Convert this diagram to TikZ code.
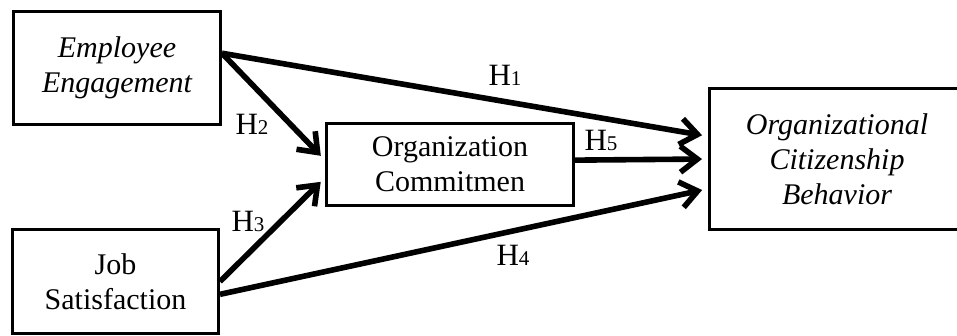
\documentclass[tikz,border=0pt]{standalone}
\usepackage{fontspec}
\setmainfont{Liberation Serif}
\usetikzlibrary{arrows.meta}

\tikzset{
  box/.style={draw=black, line width=1.5pt, align=center, inner sep=0pt,
    font=\fontsize{15}{17.5}\selectfont},
  hyp/.style={draw=black, line width=2.8pt,
    -{Straight Barb[length=8.5pt,width=13pt,line width=2.8pt]}, shorten >=3pt},
  hlab/.style={inner sep=0pt, font=\fontsize{15.5}{18}\selectfont},
}
\newcommand{\hsub}[1]{H{\fontsize{10.5}{12}\selectfont #1}}

\begin{document}
\begin{tikzpicture}[x=0.5pt,y=-0.5pt]
\useasboundingbox (0,0) rectangle (957,336);
\clip (0,0) rectangle (957,336);

\node[box,minimum width=103.5pt,minimum height=56.5pt] (ee) at (117,68) {\itshape Employee\\ \itshape Engagement};
\node[box,minimum width=103pt,minimum height=52pt] (js) at (115.5,281.5) {Job\\ Satisfaction};
\node[box,minimum width=123.5pt,minimum height=41pt] (oc) at (450,164.5) {Organization\\ Commitmen};
\node[box,minimum width=127.5pt,minimum height=70pt] (ocb) at (837,159) {\itshape Organizational\\ \itshape Citizenship\\ \itshape Behavior};

\draw[hyp] (ee.8) -- (ocb.170.5);
\draw[hyp] (ee.8) -- (oc.178);
\draw[hyp] (js.0) -- (oc.186);
\draw[hyp] (js.-7) -- (ocb.193.5);
\draw[hyp] (oc.2) -- (ocb.180);

\node[hlab] (h1) at (505,75) {\hsub{1}};
\node[hlab] (h2) at (252,124) {\hsub{2}};
\node[hlab] (h3) at (248,221) {\hsub{3}};
\node[hlab] (h4) at (513,255) {\hsub{4}};
\node[hlab] (h5) at (601,140) {\hsub{5}};

\end{tikzpicture}
\end{document}
